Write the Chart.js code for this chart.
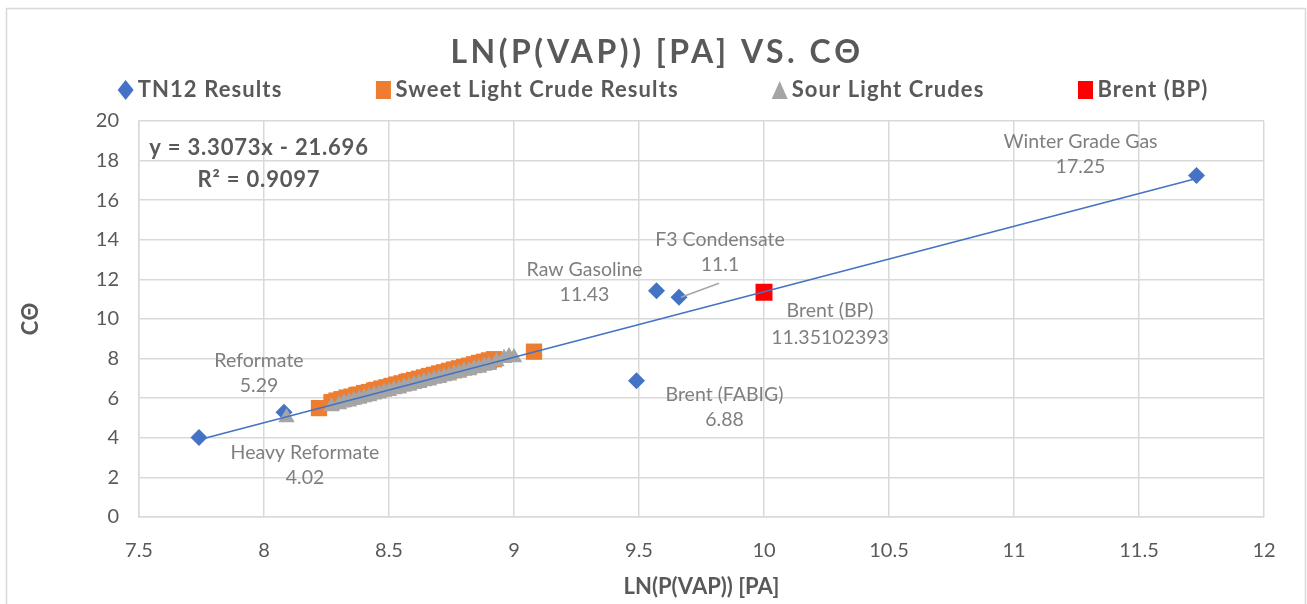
<!DOCTYPE html>
<html><head><meta charset="utf-8">
<script src="https://cdn.jsdelivr.net/npm/chart.js@4/dist/chart.umd.min.js"></script>
<style>html,body{margin:0;padding:0;background:#fff}#wrap{position:relative;width:1307px;height:604px}</style>
</head><body><div id="wrap"><canvas id="c" width="1307" height="604"></canvas></div>
<script>
// ---------- DATA ----------
const chartTitle = 'LN(P(VAP)) [PA] VS. CΘ';
const xAxisTitle = 'LN(P(VAP)) [PA]';
const yAxisTitle = 'CΘ';

const tn12Names = ['Heavy Reformate', 'Reformate', 'Raw Gasoline', 'F3 Condensate', 'Brent (FABIG)', 'Winter Grade Gas'];
const tn12X = [7.74, 8.08, 9.57, 9.66, 9.49, 11.73];
const tn12Y = [4.02, 5.29, 11.43, 11.1, 6.88, 17.25];

const sweetX = [8.22, 8.27, 8.29, 8.31, 8.33, 8.35, 8.37, 8.38, 8.40, 8.42, 8.44, 8.45, 8.47, 8.49, 8.51, 8.53, 8.55, 8.57, 8.58, 8.60, 8.62, 8.64, 8.66, 8.68, 8.70, 8.72, 8.74, 8.76, 8.78, 8.80, 8.82, 8.84, 8.86, 8.88, 8.90, 8.92, 9.08];
const sweetY = [5.50, 5.80, 5.88, 5.95, 6.03, 6.08, 6.16, 6.18, 6.26, 6.31, 6.39, 6.42, 6.49, 6.55, 6.62, 6.69, 6.75, 6.82, 6.85, 6.92, 6.98, 7.05, 7.12, 7.18, 7.25, 7.31, 7.38, 7.45, 7.51, 7.58, 7.64, 7.71, 7.78, 7.84, 7.91, 7.97, 8.35];

const sourX = [8.09, 8.27, 8.30, 8.32, 8.34, 8.36, 8.38, 8.40, 8.42, 8.44, 8.46, 8.48, 8.50, 8.52, 8.54, 8.56, 8.58, 8.60, 8.62, 8.64, 8.66, 8.68, 8.70, 8.72, 8.74, 8.76, 8.78, 8.80, 8.82, 8.84, 8.86, 8.88, 8.90, 8.93, 8.96, 8.98, 9.00];
const sourY = [5.02, 5.58, 5.68, 5.78, 5.82, 5.91, 5.96, 6.04, 6.09, 6.18, 6.22, 6.31, 6.35, 6.44, 6.48, 6.58, 6.62, 6.71, 6.75, 6.84, 6.88, 6.97, 7.01, 7.10, 7.14, 7.24, 7.27, 7.37, 7.40, 7.50, 7.53, 7.63, 7.66, 7.85, 8.02, 8.10, 8.05];

const brentX = [10.0];
const brentY = [11.35102393];
const brentNames = ['Brent (BP)'];

const trendX = [7.74, 11.73];
const trendY = [3.90, 17.10];
const trendEquation = 'y = 3.3073x - 21.696';
const trendR2 = 'R² = 0.9097';

const xTicksMin = 7.5, xTicksMax = 12, xStep = 0.5;
const yTicksMin = 0, yTicksMax = 20, yStep = 2;

// ---------- STYLE ----------
const FONT = 'Lato, "Open Sans", sans-serif';
const TEXT = '#595959';
const LABEL = '#7f7f7f';
const GRID = '#d9d9d9';
const COLORS = {tn12: '#4472c4', sweet: '#ed7d31', sour: '#a5a5a5', brent: '#ff0000'};
// offset (px) of label first line center from the point
const tn12LabelOffsets = [[106, 15], [-25, -52], [-72, -21], [41, -58], [88, 14], [-116, -34]];
const brentLabelOffsets = [[66, 18]];
const LINE_GAP = 25;

const pts = (xs, ys) => xs.map((x, i) => ({x, y: ys[i]}));

const framePlugin = {
  id: 'frame',
  beforeDraw(chart) {
    const c = chart.ctx;
    c.save();
    c.fillStyle = '#fff';
    c.fillRect(0, 0, chart.width, chart.height);
    c.strokeStyle = GRID;
    c.lineWidth = 1.5;
    c.strokeRect(6.5, 8.5, 1299, 700);
    // title
    c.font = `bold 32px ${FONT}`;
    c.letterSpacing = '3.5px';
    c.fillStyle = TEXT;
    c.textAlign = 'center';
    c.textBaseline = 'middle';
    c.fillText(chartTitle, 657, 53);
    c.restore();
  }
};

const labelPlugin = {
  id: 'labels',
  afterDatasetsDraw(chart) {
    const c = chart.ctx;
    c.save();
    c.font = `19.5px ${FONT}`;
    c.fillStyle = LABEL;
    c.textAlign = 'center';
    c.textBaseline = 'middle';
    const m0 = chart.getDatasetMeta(0);
    m0.data.forEach((p, i) => {
      const [dx, dy] = tn12LabelOffsets[i];
      c.fillText(tn12Names[i], p.x + dx, p.y + dy);
      c.fillText(String(tn12Y[i]), p.x + dx, p.y + dy + LINE_GAP);
    });
    // leader line for F3 Condensate
    const f3 = m0.data[3];
    c.strokeStyle = '#a6a6a6';
    c.lineWidth = 1.5;
    c.beginPath();
    c.moveTo(f3.x + 2, f3.y);
    c.lineTo(f3.x + 40, f3.y - 14);
    c.stroke();
    const m3 = chart.getDatasetMeta(3);
    m3.data.forEach((p, i) => {
      const [dx, dy] = brentLabelOffsets[i];
      c.fillText(brentNames[i], p.x + dx, p.y + dy);
      c.fillText(String(brentY[i]), p.x + dx, p.y + dy + LINE_GAP + 2);
    });
    // trendline equation
    const a = chart.chartArea;
    c.font = `bold 22px ${FONT}`;
    c.letterSpacing = '0.8px';
    c.fillStyle = TEXT;
    c.fillText(trendEquation, a.left + 120, a.top + 27);
    c.fillText(trendR2, a.left + 120, a.top + 59);
    c.restore();
  }
};

const legendItems = [
  {text: 'TN12 Results', shape: 'diamond', color: COLORS.tn12},
  {text: 'Sweet Light Crude Results', shape: 'square', color: COLORS.sweet},
  {text: 'Sour Light Crudes', shape: 'triangle', color: COLORS.sour},
  {text: 'Brent (BP)', shape: 'square', color: COLORS.brent}
];
const legendPlugin = {
  id: 'customLegend',
  afterDraw(chart) {
    const c = chart.ctx;
    c.save();
    c.font = `bold 22px ${FONT}`;
    c.letterSpacing = '1.1px';
    const markerW = 16, markGap = 4, itemGap = 93, y = 90;
    const widths = legendItems.map(it => markerW + markGap + c.measureText(it.text).width);
    const total = widths.reduce((s, w) => s + w, 0) + itemGap * (legendItems.length - 1);
    let x = 663 - total / 2;
    legendItems.forEach((it, i) => {
      const cx = x + markerW / 2;
      c.fillStyle = it.color;
      c.beginPath();
      if (it.shape === 'diamond') {
        c.moveTo(cx, y - 10); c.lineTo(cx + 8, y); c.lineTo(cx, y + 10); c.lineTo(cx - 8, y);
      } else if (it.shape === 'square') {
        c.rect(cx - 7.5, y - 9, 15, 18);
      } else {
        c.moveTo(cx, y - 9); c.lineTo(cx + 8, y + 9); c.lineTo(cx - 8, y + 9);
      }
      c.closePath();
      c.fill();
      c.fillStyle = TEXT;
      c.textAlign = 'left';
      c.textBaseline = 'middle';
      c.fillText(it.text, x + markerW + markGap, y);
      x += widths[i] + itemGap;
    });
    c.restore();
  }
};

new Chart(document.getElementById('c').getContext('2d'), {
  type: 'scatter',
  data: {
    datasets: [
      {label: 'TN12 Results', data: pts(tn12X, tn12Y), pointStyle: 'rectRot', pointRadius: 8.5, pointBorderWidth: 0, backgroundColor: COLORS.tn12, borderColor: COLORS.tn12, order: 4},
      {label: 'Sweet Light Crude Results', data: pts(sweetX, sweetY), pointStyle: 'rect', pointRadius: 11.5, pointBorderWidth: 0, backgroundColor: COLORS.sweet, borderColor: COLORS.sweet, order: 3},
      {label: 'Sour Light Crudes', data: pts(sourX, sourY), pointStyle: 'triangle', pointRadius: 9.5, pointBorderWidth: 0, backgroundColor: COLORS.sour, borderColor: COLORS.sour, order: 2},
      {label: 'Brent (BP)', data: pts(brentX, brentY), pointStyle: 'rect', pointRadius: 12, pointBorderWidth: 0, backgroundColor: COLORS.brent, borderColor: COLORS.brent, order: 1},
      {label: 'Linear (TN12 Results)', data: pts(trendX, trendY), showLine: true, pointRadius: 0, borderColor: COLORS.tn12, borderWidth: 1.6, order: 0}
    ]
  },
  options: {
    responsive: false,
    animation: false,
    devicePixelRatio: 1,
    layout: {padding: {left: 0, right: 43, top: 121, bottom: 0}},
    plugins: {
      legend: {display: false},
      tooltip: {enabled: false},
      title: {display: false}
    },
    scales: {
      x: {
        type: 'linear', min: xTicksMin, max: xTicksMax,
        ticks: {stepSize: xStep, color: TEXT, font: {family: FONT, size: 20}, padding: 22, callback: v => String(Number(v))},
        grid: {color: GRID, drawTicks: false, lineWidth: 1.5},
        border: {color: GRID, width: 1.5},
        title: {display: true, text: xAxisTitle, color: TEXT, font: {family: FONT, size: 22, weight: 'bold'}, padding: {top: 6}},
        afterFit(s) { s.height = 87; }
      },
      y: {
        type: 'linear', min: yTicksMin, max: yTicksMax,
        ticks: {stepSize: yStep, color: TEXT, font: {family: FONT, size: 20}, padding: 20},
        grid: {color: GRID, drawTicks: false, lineWidth: 1.5},
        border: {color: GRID, width: 1.5},
        title: {display: true, text: yAxisTitle, color: TEXT, font: {family: FONT, size: 22, weight: 'bold'}, padding: {top: 18, bottom: 0}},
        afterFit(s) { s.width = 139; }
      }
    }
  },
  plugins: [framePlugin, labelPlugin, legendPlugin]
});
</script>
</body></html>
